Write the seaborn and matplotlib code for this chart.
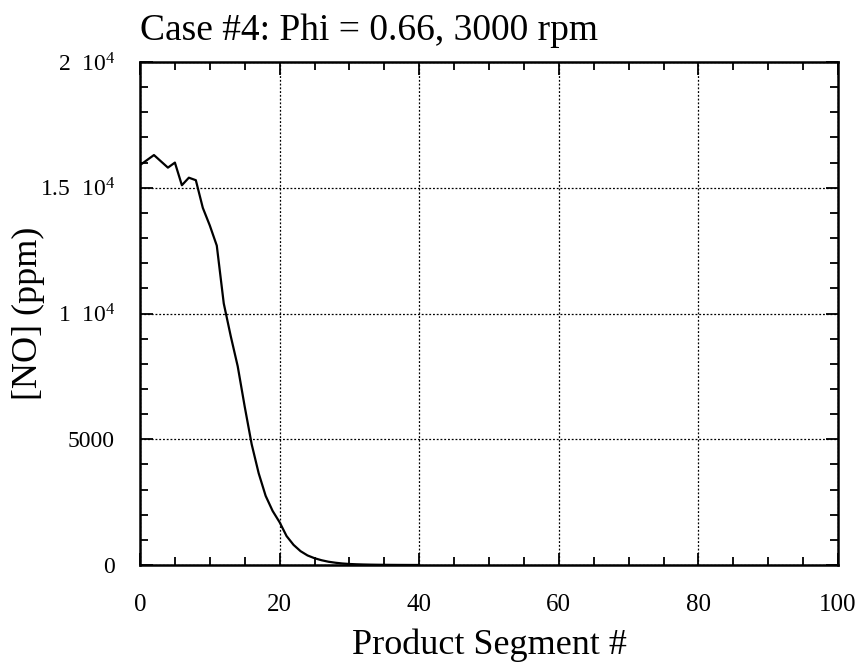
import numpy as np
import pandas as pd
import matplotlib
matplotlib.use("Agg")
import matplotlib.pyplot as plt
from matplotlib.ticker import MultipleLocator, FixedLocator
import seaborn as sns

# ---- data ----
segments = list(range(0, 41))
no_ppm = [15900, 16100, 16300, 16050, 15800, 16000, 15100, 15400, 15300, 14200,
          13500, 12700, 10400, 9100, 7900, 6300, 4800, 3650, 2750, 2150,
          1700, 1150, 800, 550, 380, 270, 190, 130, 90, 60,
          40, 28, 20, 14, 10, 7, 5, 3, 2, 1, 1]

x_ticks = [0, 20, 40, 60, 80, 100]
y_ticks = [0, 5000, 10000, 15000, 20000]
y_tick_labels = ["0", "5000", "1  10$^{4}$", "1.5  10$^{4}$", "2  10$^{4}$"]

title = "Case #4: Phi = 0.66, 3000 rpm"
x_label = "Product Segment #"
y_label = "[NO] (ppm)"

# ---- style ----
sns.set_style("ticks")
plt.rcParams["font.family"] = ["Liberation Serif", "DejaVu Serif"]
plt.rcParams["mathtext.default"] = "regular"
plt.rcParams["text.color"] = "black"
plt.rcParams["axes.labelcolor"] = "black"
plt.rcParams["xtick.color"] = "black"
plt.rcParams["ytick.color"] = "black"

fig = plt.figure(figsize=(8.64, 6.65), dpi=100)
ax = fig.add_axes([140 / 864, 1 - 565 / 665, 698 / 864, 503 / 665])

df = pd.DataFrame({"seg": segments, "no": no_ppm})
sns.lineplot(data=df, x="seg", y="no", color="black", linewidth=1.6, ax=ax)

ax.set_xlim(0, 100)
ax.set_ylim(0, 20000)
ax.xaxis.set_major_locator(FixedLocator(x_ticks))
ax.xaxis.set_minor_locator(MultipleLocator(5))
ax.yaxis.set_major_locator(FixedLocator(y_ticks))
ax.yaxis.set_minor_locator(MultipleLocator(1000))
ax.set_yticklabels(y_tick_labels)

ax.tick_params(which="both", direction="in", top=True, right=True,
               colors="black", labelcolor="black", width=1.3)
ax.tick_params(which="major", length=9)
ax.tick_params(which="minor", length=6)
ax.tick_params(axis="x", which="major", labelsize=18, pad=21)
ax.tick_params(axis="y", which="major", labelsize=17, pad=18)

for s in ax.spines.values():
    s.set_visible(True)
    s.set_linewidth(1.8)
    s.set_color("black")

ax.grid(True, which="major", linestyle=(0, (1.5, 1.5)), color="black", linewidth=0.9)

ax.set_xlabel(x_label, fontsize=26, labelpad=9, color="black")
ax.set_ylabel(y_label, fontsize=26, color="black")
ax.yaxis.set_label_coords((45 - 140) / 698, 0.5)
ax.set_title(title, fontsize=27, loc="left", pad=16, color="black")

fig.savefig("out.png", dpi=100)
